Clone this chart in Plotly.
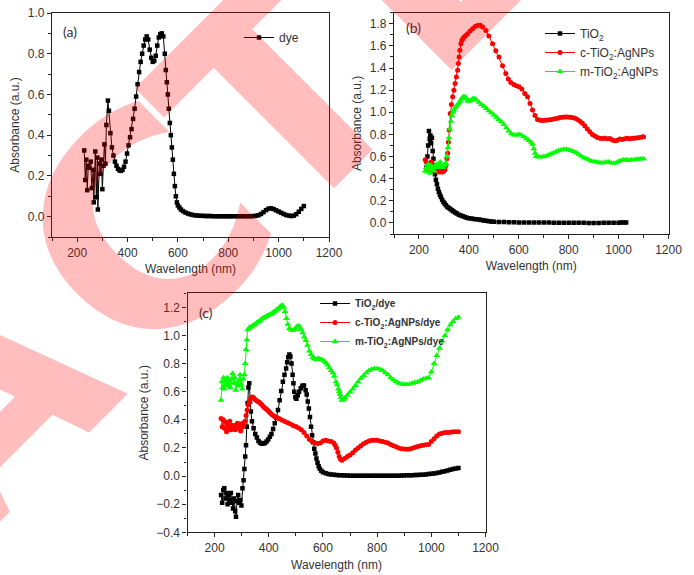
import math
import plotly.graph_objects as go

W, H = 694, 575

# ---------------- panel (a): dye ----------------
wl_dye = [228, 232, 236, 240, 244, 248, 254, 258, 264, 266, 272, 276, 280, 282, 288, 292, 296, 300,
          304, 308, 312, 316, 322, 326, 332, 338, 344, 350,
          356, 362, 368, 374, 380, 386, 392, 398, 404, 410,
          416, 422, 428, 434, 440, 446, 452, 458, 464, 470,
          476, 482, 488, 494, 500, 506, 512, 518, 524, 530,
          536, 542, 548, 552, 556, 560, 564, 568, 572, 576,
          580, 584, 588, 592, 596, 600, 606, 612, 620, 630,
          640, 650, 660, 670, 680, 690, 700, 710, 720, 730,
          740, 750, 760, 770, 780, 790, 800, 810, 820, 830,
          840, 850, 860, 870, 880, 890, 900, 910, 920, 930,
          940, 950, 960, 970, 980, 990, 1000, 1010, 1020, 1030,
          1040, 1050, 1060, 1070, 1080, 1090, 1100]
abs_dye = [0.325, 0.18, 0.28, 0.13, 0.25, 0.24, 0.27, 0.14, 0.23, 0.07, 0.32, 0.095, 0.29, 0.035, 0.26, 0.21, 0.28, 0.135,
           0.25, 0.355, 0.26, 0.45, 0.57, 0.52, 0.41, 0.34, 0.30, 0.27,
           0.25, 0.235, 0.227, 0.225, 0.23, 0.245, 0.27, 0.31, 0.35, 0.39,
           0.43, 0.48, 0.53, 0.59, 0.65, 0.71, 0.76, 0.80, 0.84, 0.87,
           0.885, 0.87, 0.82, 0.78, 0.76, 0.765, 0.79, 0.84, 0.88, 0.895,
           0.90, 0.885, 0.80, 0.72, 0.66, 0.60, 0.53, 0.46, 0.40, 0.34,
           0.28, 0.21, 0.15, 0.10, 0.07, 0.055, 0.045, 0.035, 0.027, 0.02,
           0.015, 0.011, 0.008, 0.006, 0.005, 0.004, 0.004, 0.003, 0.003, 0.003,
           0.002, 0.002, 0.002, 0.002, 0.002, 0.002, 0.002, 0.002, 0.002, 0.002,
           0.002, 0.002, 0.002, 0.002, 0.002, 0.002, 0.003, 0.004, 0.007, 0.013,
           0.022, 0.032, 0.039, 0.041, 0.037, 0.031, 0.025, 0.019, 0.013, 0.008,
           0.005, 0.003, 0.005, 0.012, 0.024, 0.038, 0.052]

# ---------------- panel (b) ----------------
wl_tio2 = [230, 234, 237, 240, 243, 246, 249, 252, 255, 258,
           261, 264, 268, 272, 276, 280, 284, 288, 293, 298,
           303, 308, 314, 320, 326, 332, 338, 345, 352, 360,
           368, 376, 384, 392, 400, 410, 420, 430, 440, 450,
           460, 470, 480, 490, 500, 520, 540, 560, 580, 600,
           620, 640, 660, 680, 700, 720, 740, 760, 780, 800,
           820, 840, 860, 880, 900, 920, 940, 960, 980, 1000,
           1010, 1020, 1030]
abs_tio2 = [0.50, 0.60, 0.70, 0.83, 0.76, 0.79, 0.72, 0.77, 0.65, 0.58,
            0.50, 0.44, 0.39, 0.35, 0.31, 0.28, 0.255, 0.235, 0.21, 0.19,
            0.175, 0.16, 0.145, 0.135, 0.125, 0.115, 0.105, 0.095, 0.085, 0.075,
            0.067, 0.06, 0.053, 0.047, 0.042, 0.039, 0.036, 0.034, 0.032, 0.027,
            0.023, 0.019, 0.016, 0.013, 0.011, 0.009, 0.008, 0.007, 0.006, 0.005,
            0.005, 0.004, 0.004, 0.003, 0.003, 0.003, 0.002, 0.002, 0.002, 0.001,
            0.001, 0.001, 0.001, 0.0, 0.0, 0.0, 0.001, 0.001, 0.002, 0.002,
            0.003, 0.003, 0.004]

wl_c = [225, 229, 233, 237, 241, 245, 249, 253, 257, 261,
        265, 270, 275, 280, 285, 290, 295, 300, 304, 308,
        312, 315, 318, 321, 325, 330, 335, 340, 345, 350,
        355, 358, 361, 364, 368, 372, 376, 381, 388, 395,
        405, 415, 425, 435, 445, 455, 468, 480, 495, 508,
        521, 535, 548, 558, 568, 580, 590, 601, 612, 624,
        635, 645, 655, 665, 675, 685, 695, 705, 715, 725,
        735, 745, 755, 765, 775, 785, 795, 805, 815, 825,
        835, 845, 855, 865, 875, 885, 895, 905, 915, 925,
        935, 945, 955, 965, 975, 985, 995, 1005, 1015, 1025,
        1035, 1045, 1055, 1065, 1075, 1085, 1095, 1100]
abs_c = [0.57, 0.55, 0.50, 0.53, 0.51, 0.48, 0.55, 0.50, 0.47, 0.52,
         0.49, 0.47, 0.46, 0.48, 0.46, 0.47, 0.46, 0.47, 0.48, 0.52,
         0.58, 0.63, 0.73, 0.84, 0.99, 1.07, 1.14, 1.20, 1.26, 1.32,
         1.38, 1.44, 1.50, 1.56, 1.62, 1.65, 1.665, 1.68, 1.695, 1.71,
         1.735, 1.755, 1.775, 1.785, 1.787, 1.77, 1.74, 1.69, 1.62, 1.555,
         1.50, 1.42, 1.35, 1.30, 1.27, 1.25, 1.24, 1.23, 1.21, 1.17,
         1.14, 1.08, 1.02, 0.97, 0.935, 0.928, 0.925, 0.927, 0.93, 0.933,
         0.937, 0.942, 0.947, 0.952, 0.955, 0.957, 0.957, 0.955, 0.952, 0.945,
         0.935, 0.92, 0.90, 0.875, 0.85, 0.825, 0.80, 0.785, 0.772, 0.765,
         0.762, 0.765, 0.76, 0.762, 0.75, 0.742, 0.748, 0.758, 0.755, 0.76,
         0.765, 0.76, 0.765, 0.765, 0.77, 0.772, 0.776, 0.78]

wl_m = [225, 229, 233, 237, 241, 245, 249, 253, 257, 261,
        265, 270, 275, 280, 285, 290, 295, 300, 304, 308,
        312, 316, 320, 324, 328, 332, 336, 340, 345, 350,
        355, 360, 365, 370, 375, 380, 385, 390, 395, 400,
        405, 410, 415, 420, 425, 430, 440, 450, 460, 470,
        480, 490, 500, 510, 520, 530, 540, 550, 560, 570,
        580, 590, 600, 610, 620, 630, 640, 650, 655, 660,
        665, 670, 680, 690, 700, 710, 720, 730, 740, 750,
        760, 770, 780, 790, 800, 810, 820, 830, 840, 850,
        860, 870, 880, 890, 900, 910, 920, 930, 940, 950,
        960, 970, 980, 990, 1000, 1010, 1020, 1030, 1040, 1050,
        1060, 1070, 1080, 1090, 1100]
abs_m = [0.47, 0.50, 0.46, 0.53, 0.49, 0.45, 0.52, 0.48, 0.50, 0.47,
         0.51, 0.53, 0.50, 0.52, 0.55, 0.51, 0.50, 0.52, 0.53, 0.54,
         0.60, 0.68, 0.77, 0.85, 0.92, 0.97, 1.0, 1.02, 1.04, 1.055,
         1.07, 1.085, 1.10, 1.12, 1.135, 1.14, 1.14, 1.125, 1.105, 1.10,
         1.105, 1.11, 1.12, 1.125, 1.12, 1.11, 1.09, 1.07, 1.055, 1.035,
         1.015, 0.995, 0.975, 0.955, 0.935, 0.915, 0.89, 0.86, 0.83, 0.805,
         0.795, 0.795, 0.80, 0.795, 0.78, 0.76, 0.745, 0.73, 0.71, 0.67,
         0.63, 0.60, 0.595, 0.595, 0.60, 0.605, 0.615, 0.625, 0.635, 0.645,
         0.655, 0.66, 0.665, 0.665, 0.66, 0.655, 0.645, 0.635, 0.62, 0.605,
         0.59, 0.58, 0.57, 0.56, 0.555, 0.55, 0.545, 0.545, 0.545, 0.55,
         0.55, 0.545, 0.54, 0.545, 0.555, 0.565, 0.57, 0.57, 0.565, 0.57,
         0.57, 0.575, 0.575, 0.58, 0.58]

# ---------------- panel (c) ----------------
wl_td = [224, 228, 232, 236, 240, 244, 248, 252, 256, 260,
         264, 268, 272, 276, 279, 283, 287, 291, 295, 299,
         303, 307, 310, 313, 316, 319, 322, 325, 328, 331,
         334, 338, 344, 350, 356, 362, 368, 374, 380, 386,
         392, 398, 404, 410, 416, 422, 428, 434, 440, 446,
         452, 458, 464, 468, 472, 476, 480, 484, 488, 491,
         494, 498, 502, 507, 512, 518, 524, 530, 536, 540,
         544, 548, 552, 556, 560, 564, 568, 572, 576, 580,
         584, 588, 594, 600, 610, 620, 630, 640, 650, 660,
         670, 680, 690, 700, 710, 720, 730, 740, 750, 760,
         770, 780, 790, 800, 810, 820, 830, 840, 850, 860,
         870, 880, 890, 900, 910, 920, 930, 940, 950, 960,
         970, 980, 990, 1000, 1010, 1020, 1030, 1040, 1050, 1060,
         1070, 1080, 1090, 1100]
abs_td = [-0.135, -0.19, -0.10, -0.087, -0.16, -0.12, -0.20, -0.135, -0.17, -0.12,
          -0.19, -0.23, -0.16, -0.25, -0.29, -0.18, -0.135, -0.19, -0.17, -0.21,
          -0.087, -0.03, 0.05, 0.14, 0.22, 0.35, 0.52, 0.63, 0.66, 0.53,
          0.46, 0.39, 0.34, 0.30, 0.275, 0.25, 0.237, 0.23, 0.232, 0.236,
          0.245, 0.26, 0.28, 0.30, 0.335, 0.375, 0.415, 0.47, 0.54, 0.605,
          0.67, 0.72, 0.765, 0.81, 0.845, 0.865, 0.85, 0.80, 0.72, 0.66,
          0.60, 0.56, 0.55, 0.575, 0.60, 0.625, 0.643, 0.645, 0.61, 0.58,
          0.53, 0.48, 0.42, 0.35, 0.29, 0.24, 0.195, 0.16, 0.125, 0.095,
          0.07, 0.052, 0.038, 0.028, 0.02, 0.015, 0.012, 0.01, 0.008, 0.006,
          0.005, 0.004, 0.004, 0.003, 0.003, 0.003, 0.002, 0.002, 0.002, 0.002,
          0.002, 0.002, 0.002, 0.002, 0.002, 0.002, 0.002, 0.002, 0.003, 0.003,
          0.003, 0.003, 0.004, 0.004, 0.005, 0.005, 0.006, 0.007, 0.008, 0.009,
          0.01, 0.012, 0.014, 0.016, 0.019, 0.022, 0.026, 0.03, 0.035, 0.04,
          0.045, 0.05, 0.054, 0.057]

wl_cd = [224, 228, 232, 236, 240, 244, 248, 252, 256, 260,
         264, 268, 272, 276, 280, 284, 288, 292, 296, 300,
         304, 308, 312, 316, 320, 324, 328, 332, 336, 340,
         345, 350, 355, 360, 365, 370, 375, 380, 385, 390,
         395, 400, 405, 410, 415, 420, 425, 430, 435, 440,
         450, 460, 470, 480, 490, 500, 510, 520, 530, 540,
         550, 560, 570, 580, 590, 600, 610, 620, 630, 640,
         645, 650, 655, 660, 665, 670, 680, 690, 700, 710,
         720, 730, 740, 750, 760, 770, 780, 790, 800, 810,
         820, 830, 840, 850, 860, 870, 880, 890, 900, 910,
         920, 930, 940, 950, 960, 970, 980, 990, 1000, 1010,
         1020, 1030, 1040, 1050, 1060, 1070, 1080, 1090, 1100]
abs_cd = [0.41, 0.35, 0.40, 0.34, 0.385, 0.315, 0.37, 0.34, 0.39, 0.33,
          0.36, 0.34, 0.36, 0.33, 0.35, 0.375, 0.34, 0.37, 0.32, 0.345,
          0.375, 0.36, 0.39, 0.43, 0.47, 0.505, 0.53, 0.55, 0.56, 0.563,
          0.555, 0.545, 0.535, 0.53, 0.525, 0.515, 0.505, 0.495, 0.485, 0.478,
          0.47, 0.46, 0.45, 0.44, 0.432, 0.425, 0.42, 0.415, 0.41, 0.407,
          0.397, 0.388, 0.38, 0.37, 0.36, 0.352, 0.342, 0.33, 0.31, 0.285,
          0.26, 0.245, 0.235, 0.232, 0.235, 0.25, 0.255, 0.25, 0.245, 0.235,
          0.22, 0.20, 0.17, 0.14, 0.12, 0.113, 0.125, 0.14, 0.15, 0.165,
          0.185, 0.20, 0.215, 0.23, 0.24, 0.25, 0.255, 0.255, 0.255, 0.25,
          0.245, 0.24, 0.235, 0.225, 0.215, 0.208, 0.20, 0.195, 0.192, 0.19,
          0.193, 0.198, 0.205, 0.21, 0.215, 0.22, 0.222, 0.225, 0.245, 0.265,
          0.285, 0.30, 0.305, 0.31, 0.31, 0.312, 0.315, 0.315, 0.315]

wl_md = [224, 227, 230, 233, 236, 240, 243, 247, 250, 254,
         258, 262, 266, 270, 274, 278, 282, 286, 290, 294,
         298, 302, 306, 310, 313, 316, 319, 322, 326, 330,
         335, 340, 345, 350, 355, 360, 365, 370, 375, 380,
         385, 390, 395, 400, 405, 410, 415, 420, 425, 430,
         435, 440, 445, 450, 455, 460, 465, 470, 476, 482,
         488, 494, 500, 507, 513, 519, 525, 531, 537, 543,
         550, 556, 562, 568, 575, 581, 587, 594, 600, 606,
         611, 617, 623, 630, 636, 642, 648, 652, 657, 660,
         663, 666, 670, 675, 680, 690, 700, 710, 720, 730,
         740, 750, 760, 770, 780, 790, 800, 810, 820, 830,
         840, 850, 860, 870, 880, 890, 900, 910, 920, 930,
         940, 950, 960, 970, 980, 990, 1000, 1010, 1020, 1030,
         1040, 1050, 1060, 1070, 1080, 1090, 1100]
abs_md = [0.54, 0.67, 0.63, 0.70, 0.62, 0.68, 0.65, 0.70, 0.64, 0.67,
          0.63, 0.69, 0.73, 0.66, 0.70, 0.61, 0.66, 0.64, 0.68, 0.72,
          0.65, 0.62, 0.69, 0.72, 0.80, 0.90, 0.97, 1.04, 1.05, 1.06,
          1.06, 1.07, 1.075, 1.08, 1.09, 1.095, 1.10, 1.11, 1.12, 1.125,
          1.13, 1.135, 1.14, 1.145, 1.15, 1.155, 1.16, 1.17, 1.175, 1.185,
          1.19, 1.20, 1.21, 1.215, 1.20, 1.17, 1.12, 1.08, 1.05, 1.04,
          1.035, 1.04, 1.055, 1.07, 1.065, 1.045, 1.02, 0.99, 0.965, 0.93,
          0.89, 0.865, 0.845, 0.835, 0.83, 0.835, 0.835, 0.83, 0.825, 0.815,
          0.805, 0.79, 0.77, 0.75, 0.735, 0.71, 0.67, 0.65, 0.62, 0.60,
          0.58, 0.56, 0.54, 0.545, 0.555, 0.575, 0.598, 0.62, 0.645, 0.67,
          0.695, 0.715, 0.735, 0.75, 0.76, 0.765, 0.765, 0.76, 0.75, 0.735,
          0.72, 0.70, 0.685, 0.67, 0.66, 0.655, 0.652, 0.652, 0.655, 0.66,
          0.665, 0.67, 0.68, 0.69, 0.695, 0.70, 0.74, 0.80, 0.857, 0.91,
          0.96, 1.0, 1.04, 1.075, 1.10, 1.12, 1.13]

x_ticks = [200, 400, 600, 800, 1000, 1200]

for a, b in [(wl_dye, abs_dye), (wl_tio2, abs_tio2), (wl_c, abs_c), (wl_m, abs_m),
             (wl_td, abs_td), (wl_cd, abs_cd), (wl_md, abs_md)]:
    assert len(a) == len(b), (len(a), len(b))

BLACK, RED, GREEN = "#000000", "#ff0000", "#00ff00"

fig = go.Figure()


def add(x, y, name, color, symbol, size, xa, ya, leg):
    fig.add_trace(go.Scatter(
        x=x, y=y, name=name, mode="lines+markers",
        line=dict(color=color, width=1),
        marker=dict(symbol=symbol, size=size, color=color, line=dict(width=0)),
        xaxis=xa, yaxis=ya, legend=leg))


add(wl_dye, abs_dye, "dye", BLACK, "square", 4.5, "x", "y", "legend")
add(wl_tio2, abs_tio2, "TiO<sub>2</sub>", BLACK, "square", 4.5, "x2", "y2", "legend2")
add(wl_c, abs_c, "c-TiO<sub>2</sub>:AgNPs", RED, "circle", 5, "x2", "y2", "legend2")
add(wl_m, abs_m, "m-TiO<sub>2</sub>:AgNPs", GREEN, "triangle-up", 6, "x2", "y2", "legend2")
add(wl_td, abs_td, "TiO<sub>2</sub>/dye", BLACK, "square", 4.5, "x3", "y3", "legend3")
add(wl_cd, abs_cd, "c-TiO<sub>2</sub>:AgNPs/dye", RED, "circle", 5, "x3", "y3", "legend3")
add(wl_md, abs_md, "m-TiO<sub>2</sub>:AgNPs/dye", GREEN, "triangle-up", 6, "x3", "y3", "legend3")

TICKFONT = dict(family="Liberation Sans, Arial, sans-serif", size=12, color="#333333")
TITLEFONT = dict(family="Liberation Sans, Arial, sans-serif", size=12, color="#333333")
LINEC = "#222222"


def xax(l, r, anchor):
    return dict(domain=[l / W, r / W], range=[100, 1200], autorange=False, anchor=anchor,
                showline=True, mirror=True, linecolor=LINEC, linewidth=1.2,
                ticks="outside", ticklen=4, tickcolor=LINEC, tickvals=x_ticks,
                minor=dict(ticks="outside", ticklen=2.5, tickcolor=LINEC, dtick=100, tick0=0),
                showgrid=False, zeroline=False, tickfont=TICKFONT,
                title=dict(text="Wavelength (nm)", font=TITLEFONT, standoff=6))


def yax(t, b, rng, anchor):
    return dict(domain=[1 - b / H, 1 - t / H], range=rng, autorange=False, anchor=anchor,
                showline=True, mirror=True, linecolor=LINEC, linewidth=1.2,
                ticks="outside", ticklen=4, tickcolor=LINEC, dtick=0.2, tick0=0,
                tickformat=".1f",
                minor=dict(ticks="outside", ticklen=2.5, tickcolor=LINEC, dtick=0.1, tick0=0),
                showgrid=False, zeroline=False, tickfont=TICKFONT,
                title=dict(text="Absorbance (a.u.)", font=TITLEFONT, standoff=5))


LEGFONT = dict(family="Liberation Sans, Arial, sans-serif", size=12, color="#333333")
LEGFONT_C = dict(family="Liberation Sans, Arial, sans-serif", size=10, color="#333333", weight="bold")

fig.update_layout(
    width=W, height=H, margin=dict(l=0, r=0, t=0, b=0, autoexpand=False),
    paper_bgcolor="white", plot_bgcolor="white",
    xaxis=xax(52, 329, "y"), yaxis=yax(13, 237, [-0.1, 1.0], "x"),
    xaxis2=xax(394, 668.5, "y2"), yaxis2=yax(12.7, 234, [-0.1, 1.9], "x2"),
    xaxis3=xax(187.5, 485.5, "y3"), yaxis3=yax(293.3, 532.3, [-0.4, 1.3], "x3"),
    legend=dict(x=239 / W, y=1 - 23 / H, xanchor="left", yanchor="top",
                bgcolor="rgba(0,0,0,0)", font=LEGFONT, itemwidth=30, tracegroupgap=0),
    legend2=dict(x=540 / W, y=1 - 19 / H, xanchor="left", yanchor="top",
                 bgcolor="rgba(0,0,0,0)", font=LEGFONT, itemwidth=30, tracegroupgap=0),
    legend3=dict(x=315 / W, y=1 - 289 / H, xanchor="left", yanchor="top",
                 bgcolor="rgba(0,0,0,0)", font=LEGFONT_C, itemwidth=30, tracegroupgap=0),
    showlegend=True,
)

PANEL_FONT = dict(family="Lato, Open Sans, sans-serif", size=14, color="#333333")
for txt, px, py in [("(a)", 61, 32), ("(b)", 404, 28), ("(c)", 197, 312)]:
    fig.add_annotation(text=txt, x=px / W, y=1 - py / H, xref="paper", yref="paper",
                       xanchor="left", yanchor="middle", showarrow=False, font=PANEL_FONT)

# red diagonal "RETRACTED" watermark (only the letters that fall on the page are visible);
# letters laid along a 45-degree baseline, positions given along that baseline (px)
WM_SIZE = 290
WM_LETTERS = ["A", "C", "T", "E"]
WM_ALONG = [-298, -61, 131, 342]        # letter centres along the baseline
BASE_C = 257.5                          # baseline passes through (BASE_C, BASE_C)
lift = 0.33 * WM_SIZE                   # text-box centre above the baseline
c45 = math.cos(math.radians(45))
for ch, u in zip(WM_LETTERS, WM_ALONG):
    cx = BASE_C + c45 * u - c45 * lift
    cy = BASE_C - c45 * u - c45 * lift
    fig.add_annotation(text=ch, x=cx / W, y=1 - cy / H, xref="paper", yref="paper",
                       xanchor="center", yanchor="middle", showarrow=False, textangle=-45,
                       font=dict(family="DejaVu Sans", size=WM_SIZE,
                                 color="rgba(255,0,0,0.26)", weight="bold"))

# the page itself gets no outer margin so the 694x575 figure fills the window exactly
fig.write_html("out.html", config={"displayModeBar": False},
               post_script="document.body.style.margin='0px';")
